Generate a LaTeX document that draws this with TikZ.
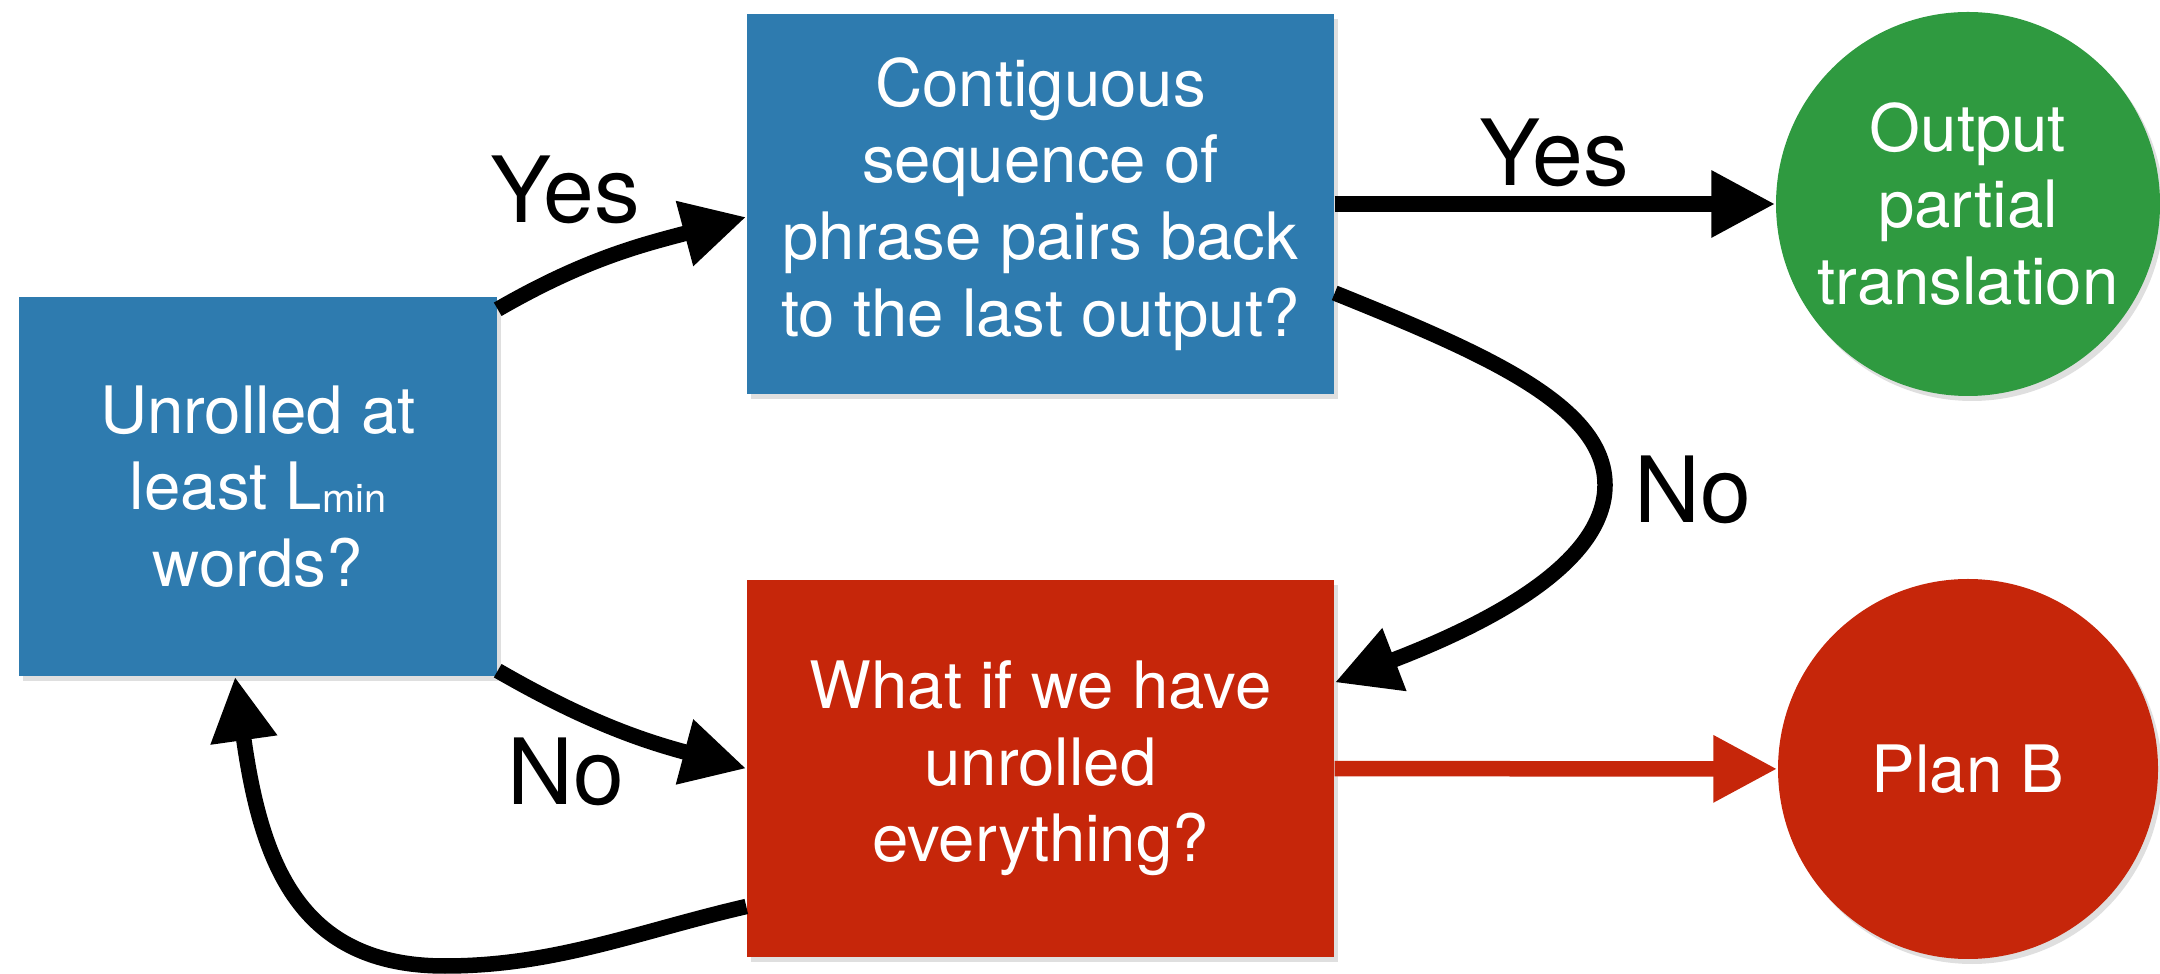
\documentclass[tikz,border=0pt]{standalone}
\usepackage{fontspec}
\setmainfont{TeX Gyre Heros}
\usepackage{tikz}
\usetikzlibrary{arrows.meta,positioning,shadows}
\definecolor{qblue}{HTML}{2E7BAF}
\definecolor{qred}{HTML}{C6260A}
\definecolor{qgreen}{HTML}{2F9A40}
\tikzset{
  box/.style={rectangle, text=white, align=center, inner sep=0pt, font=\fontsize{18.6}{21.8}\selectfont,
    drop shadow={shadow xshift=0.4mm, shadow yshift=-0.5mm, opacity=0.25}},
  ask/.style={box, fill=qblue},
  fail/.style={box, fill=qred},
  endok/.style={box, circle, fill=qgreen, minimum size=3.84cm},
  endbad/.style={box, circle, fill=qred, minimum size=3.8cm},
  arr/.style={-{Triangle[length=6.4mm, width=6.3mm]}, line width=1.55mm},
  redarr/.style={arr, draw=qred},
  lbl/.style={font=\fontsize{26}{28}\selectfont, anchor=base}
}

\begin{document}
\begin{tikzpicture}
\useasboundingbox (0,0) rectangle (21.6,-9.74);
\node[ask, minimum width=4.78cm, minimum height=3.79cm] (unrolled) at (2.58,-4.865) {Unrolled at\\least L\raisebox{-0.3mm}{\fontsize{11.3}{12}\selectfont min}\\words?};
\node[ask, minimum width=5.87cm, minimum height=3.80cm] (contig) at (10.405,-2.04) {Contiguous\\sequence of\\phrase pairs back\\to the last output?};
\node[fail, minimum width=5.87cm, minimum height=3.77cm] (whatif) at (10.405,-7.685) {What if we have\\unrolled\\everything?};
\node[endok] (output) at (19.68,-2.04) {Output\\partial\\translation};
\node[endbad] (planb) at (19.68,-7.69) {Plan B};
\node[lbl] (yesup) at (5.65,-2.23) {Yes};
\node[lbl] (yesout) at (15.54,-1.86) {Yes};
\node[lbl] (noright) at (16.93,-5.23) {No};
\node[lbl] (noleft) at (5.66,-8.05) {No};
\coordinate (noturn) at (16.05,-4.85);
\coordinate (loopbottom) at (4.45,-9.66);
\draw[arr] ([yshift=-1.3mm]unrolled.north east) to[out=30, in=195] ([yshift=-1.3mm]contig.west);
\draw[arr] (contig) -- (output);
\draw[arr] ([yshift=-8.9mm]contig.east) .. controls +(-22:1.6) and +(90:0.8) .. (noturn)
  .. controls +(-90:0.8) and +(21:1.6) .. ([yshift=8.6mm]whatif.east);
\draw[arr] ([yshift=0.6mm]unrolled.south east) to[out=-30, in=165] (whatif.west);
\draw[arr] ([yshift=-13.8mm]whatif.west) .. controls +(193:1.1) and +(0:1.1) .. (loopbottom)
  .. controls +(180:1.45) and +(278:1.9) .. ([xshift=-2.3mm]unrolled.south);
\draw[redarr] (whatif) -- (planb);
\end{tikzpicture}
\end{document}
